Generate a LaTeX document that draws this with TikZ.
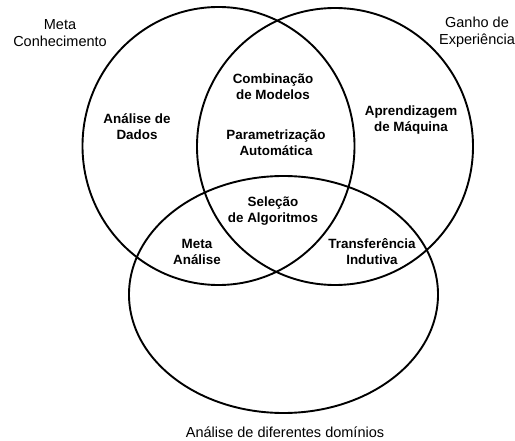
\documentclass[tikz,border=0pt]{standalone}
\usepackage{fontspec}
\setmainfont{Liberation Sans}
\begin{document}
\begin{tikzpicture}[x=1pt,y=-1pt,
  setline/.style={line width=1.9pt,black},
  setname/.style={align=center,inner sep=0pt,font=\fontsize{14.5}{17}\selectfont},
  region/.style={align=center,inner sep=0pt,font=\fontsize{13.4}{16}\selectfont\bfseries}]
  \useasboundingbox (0,0) rectangle (515,441);

  % the three sets
  \draw[setline] (218.5,146) ellipse [x radius=136, y radius=139];
  \draw[setline] (335,146.5) ellipse [x radius=138, y radius=138.5];
  \draw[setline] (283.5,294.5) ellipse [x radius=154.5, y radius=118.5];

  % set names
  \node[setname] (meta) at (60,33.5) {Meta\\Conhecimento};
  \node[setname] (ganho) at (477,32) {Ganho de\\Experiência};
  \node[setname] (dominios) at (285,432) {Análise de diferentes domínios};

  % regions
  \node[region] (dados) at (137,127) {Análise de\\Dados};
  \node[region] (comb) at (273,86.5) {Combinação\\de Modelos};
  \node[region] (param) at (276,143) {Parametrização\\Automática};
  \node[region] (aprend) at (411,120) {Aprendizagem\\de Máquina};
  \node[region] (selecao) at (273,211) {Seleção\\de Algoritmos};
  \node[region] (metaan) at (197,251.5) {Meta\\Análise};
  \node[region] (transf) at (372,251.5) {Transferência\\Indutiva};
\end{tikzpicture}
\end{document}
